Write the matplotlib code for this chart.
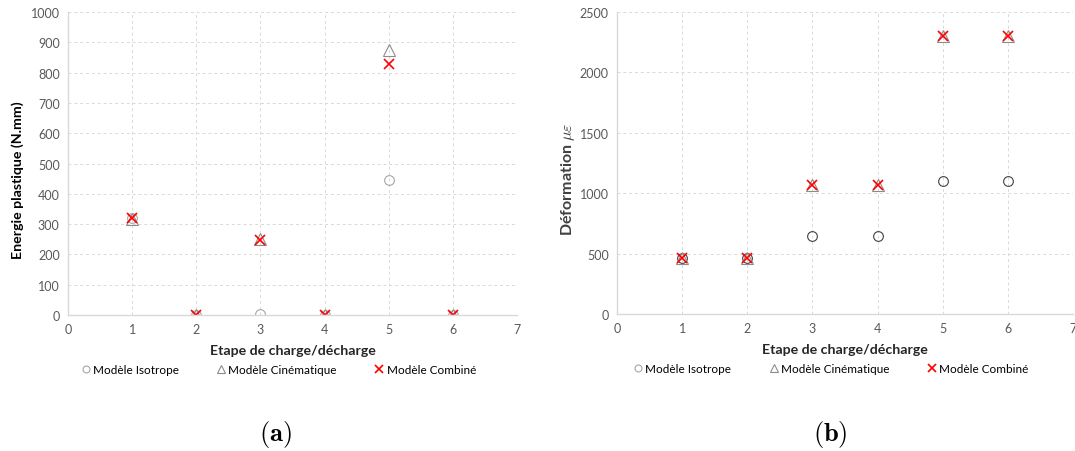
import matplotlib
matplotlib.use("Agg")
import matplotlib.pyplot as plt
from matplotlib.lines import Line2D

plt.rcParams['font.family'] = ['Lato', 'DejaVu Sans']

steps = [1, 2, 3, 4, 5, 6]

# (a) energie plastique (N.mm)
energie_iso = [320, 0, 3, 0, 447, 0]
energie_cin = [318, 0, 250, 0, 876, 0]
energie_comb = [320, 0, 248, 0, 828, 0]

# (b) deformation (micro-strain)
deform_iso = [460, 460, 650, 650, 1100, 1100]
deform_cin = [460, 460, 1070, 1070, 2300, 2300]
deform_comb = [460, 460, 1070, 1070, 2300, 2300]

labels = ['Modèle Isotrope', 'Modèle Cinématique', 'Modèle Combiné']
xlabel = 'Etape de charge/décharge'

fig = plt.figure(figsize=(10.75, 4.52), dpi=100)
ax1 = fig.add_axes([0.0633, 0.301, 0.4177, 0.670])
ax2 = fig.add_axes([0.574, 0.303, 0.424, 0.668])

tick_col = '#595959'
grid_col = '#d9d9d9'


def style(ax, ymax, ystep):
    ax.set_xlim(0, 7)
    ax.set_ylim(0, ymax)
    ax.set_xticks(range(0, 8))
    ax.set_yticks(range(0, ymax + 1, ystep))
    ax.grid(True, color=grid_col, linestyle=(0, (3, 3)), linewidth=0.7)
    ax.set_axisbelow(True)
    for s in ['top', 'right']:
        ax.spines[s].set_visible(False)
    for s in ['left', 'bottom']:
        ax.spines[s].set_color(grid_col)
        ax.spines[s].set_linewidth(1)
    ax.tick_params(length=0, labelsize=9, colors=tick_col, pad=6)
    ax.set_xlabel(xlabel, fontsize=10.2, fontweight='bold', color='#262626', labelpad=6)


def draw(ax, iso, cin, comb, iso_col):
    ax.plot(steps, iso, linestyle='none', marker='o', markersize=7,
            markerfacecolor='none', markeredgecolor=iso_col, markeredgewidth=0.8, label=labels[0])
    ax.plot(steps, cin, linestyle='none', marker='^', markersize=8,
            markerfacecolor='none', markeredgecolor='#8c8c8c', markeredgewidth=0.8, label=labels[1])
    ax.plot(steps, comb, linestyle='none', marker='x', markersize=7,
            color='#ff0000', markeredgewidth=1.2, label=labels[2])


draw(ax1, energie_iso, energie_cin, energie_comb, '#a6a6a6')
style(ax1, 1000, 100)
ax1.set_ylabel('Energie plastique (N.mm)', fontsize=10.2, fontweight='bold', color='#000000')
ax1.yaxis.set_label_coords(-0.098, 0.449)

draw(ax2, deform_iso, deform_cin, deform_comb, '#404040')
style(ax2, 2500, 500)
ax2.set_ylabel(r'Déformation $\mu\varepsilon$', fontsize=11.5, fontweight='bold', color='#404040',
               math_fontfamily='cm')
ax2.yaxis.set_label_coords(-0.088, 0.45)

handles = [
    Line2D([], [], linestyle='none', marker='o', markersize=5, markerfacecolor='none',
           markeredgecolor='#a6a6a6', markeredgewidth=0.8),
    Line2D([], [], linestyle='none', marker='^', markersize=6, markerfacecolor='none',
           markeredgecolor='#8c8c8c', markeredgewidth=0.8),
    Line2D([], [], linestyle='none', marker='x', markersize=6, color='#ff0000',
           markeredgewidth=1.2),
]
for ax in (ax1, ax2):
    ax.legend(handles, labels, loc='center', bbox_to_anchor=(0.47, -0.18), ncol=3,
              frameon=False, fontsize=8.5, handlelength=0.6, handletextpad=0.3,
              columnspacing=3.3, borderaxespad=0, borderpad=0)

fig.text(0.256, 0.025, r'$\mathbf{(a)}$', fontsize=19, ha='center', math_fontfamily='cm')
fig.text(0.772, 0.025, r'$\mathbf{(b)}$', fontsize=19, ha='center', math_fontfamily='cm')

fig.savefig('out.png', dpi=100)
